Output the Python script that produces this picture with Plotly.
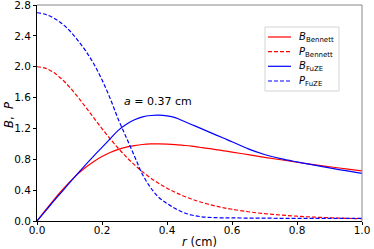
import plotly.graph_objects as go

r_grid = [0.0, 0.025, 0.05, 0.075, 0.1, 0.125, 0.15, 0.175, 0.2, 0.225, 0.25, 0.275, 0.3,
          0.325, 0.35, 0.375, 0.4, 0.425, 0.45, 0.475, 0.5, 0.525, 0.55, 0.575, 0.6,
          0.65, 0.7, 0.75, 0.8, 0.85, 0.9, 0.95, 1.0]

B_bennett = [0.000, 0.135, 0.265, 0.389, 0.504, 0.607, 0.696, 0.773, 0.837, 0.888, 0.928, 0.958, 0.978,
             0.992, 0.999, 1.000, 0.997, 0.991, 0.981, 0.970, 0.956, 0.942, 0.926, 0.910, 0.894,
             0.860, 0.826, 0.794, 0.762, 0.732, 0.703, 0.676, 0.651]

P_bennett = [2.000, 1.982, 1.929, 1.845, 1.737, 1.611, 1.475, 1.336, 1.198, 1.066, 0.943, 0.830, 0.728,
             0.637, 0.557, 0.487, 0.425, 0.372, 0.325, 0.285, 0.250, 0.220, 0.194, 0.171, 0.152,
             0.120, 0.095, 0.077, 0.062, 0.051, 0.042, 0.035, 0.029]

B_fuze = [0.000, 0.125, 0.250, 0.372, 0.495, 0.615, 0.732, 0.845, 0.955, 1.065, 1.175, 1.255, 1.312,
          1.350, 1.368, 1.372, 1.362, 1.340, 1.297, 1.252, 1.207, 1.162, 1.117, 1.072, 1.028,
          0.935, 0.862, 0.808, 0.766, 0.727, 0.689, 0.652, 0.617]

P_fuze = [2.700, 2.680, 2.635, 2.565, 2.470, 2.345, 2.205, 2.035, 1.830, 1.590, 1.320, 1.080, 0.840,
          0.600, 0.430, 0.305, 0.228, 0.163, 0.112, 0.078, 0.058, 0.048, 0.043, 0.041, 0.040,
          0.038, 0.037, 0.035, 0.035, 0.034, 0.034, 0.033, 0.033]

series_names = ["<i>B</i><sub>Bennett</sub>", "<i>P</i><sub>Bennett</sub>",
                "<i>B</i><sub>FuZE</sub>", "<i>P</i><sub>FuZE</sub>"]
series_values = [B_bennett, P_bennett, B_fuze, P_fuze]

x_ticks = [0.0, 0.2, 0.4, 0.6, 0.8, 1.0]
y_ticks = [0.0, 0.4, 0.8, 1.2, 1.6, 2.0, 2.4, 2.8]

annotation_text = "<i>a</i> = 0.37 cm"
x_title = "<i>r</i> (cm)"
y_title = "<i>B</i>,  <i>P</i>"

FONT = "DejaVu Sans"
colors = ["#ff0000", "#ff0000", "#0000ff", "#0000ff"]
dashes = ["solid", "4px,2px", "solid", "4px,2px"]

W, H = 374, 249
ML, MR, MT, MB = 37, 12, 5, 28
PW, PH = W - ML - MR, H - MT - MB


def px_to_paper(px, py):
    return (px - ML) / PW, (H - MB - py) / PH


fig = go.Figure()
for name, vals, col, dash in zip(series_names, series_values, colors, dashes):
    fig.add_trace(go.Scatter(x=r_grid, y=vals, mode="lines", name=name, showlegend=False,
                             line=dict(color=col, width=1.2, dash=dash, shape="spline")))

fig.add_annotation(x=0.372, y=1.55, text=annotation_text, showarrow=False,
                   font=dict(family=FONT, size=11, color="black"))

# axis titles
fig.add_annotation(xref="paper", yref="paper", x=0.5, y=-0.096, yanchor="middle",
                   text=x_title, showarrow=False,
                   font=dict(family=FONT, size=11.5, color="black"))
fig.add_annotation(xref="paper", yref="paper", x=-0.087, y=0.49, xanchor="center", yanchor="middle",
                   text=y_title, showarrow=False, textangle=-90,
                   font=dict(family=FONT, size=11.5, color="black"))

# top/right frame lines in grey
fig.add_shape(type="line", xref="x domain", yref="y domain", x0=0, x1=1, y0=1, y1=1,
              line=dict(color="#888888", width=1))
fig.add_shape(type="line", xref="x domain", yref="y domain", x0=1, x1=1, y0=0, y1=1,
              line=dict(color="#888888", width=1))

# legend box (matplotlib-like compact legend)
bx0, by0 = px_to_paper(265, 27)
bx1, by1 = px_to_paper(339, 91)
fig.add_shape(type="rect", xref="paper", yref="paper", x0=bx0, x1=bx1, y0=by1, y1=by0,
              line=dict(color="#d4d4d4", width=1), fillcolor="white", layer="above")
row_y = [37, 51.7, 66.3, 81]
for name, col, dash, ry in zip(series_names, colors, dashes, row_y):
    lx0, ly = px_to_paper(268, ry)
    lx1, _ = px_to_paper(291, ry)
    fig.add_shape(type="line", xref="paper", yref="paper", x0=lx0, x1=lx1, y0=ly, y1=ly,
                  line=dict(color=col, width=1.2, dash=dash), layer="above")
    tx, ty = px_to_paper(297, ry + 0.5)
    fig.add_annotation(xref="paper", yref="paper", x=tx, y=ty, xanchor="left", yanchor="middle",
                       text=name, showarrow=False, font=dict(family=FONT, size=10, color="black"))

fig.update_layout(
    width=W, height=H,
    margin=dict(l=ML, r=MR, t=MT, b=MB),
    paper_bgcolor="white", plot_bgcolor="white",
    font=dict(family=FONT, size=10.5, color="black"),
    showlegend=False,
)
fig.update_xaxes(range=[0, 1.0], tickvals=x_ticks, ticktext=[f"{v:.1f}" for v in x_ticks],
                 showgrid=False, zeroline=False, showline=True, linecolor="black", linewidth=1,
                 ticks="outside", ticklen=3, tickcolor="black", automargin=False,
                 ticklabelstandoff=-4, ticklabeloverflow="allow")
fig.update_yaxes(range=[0, 2.8005], tickvals=y_ticks, ticktext=[f"{v:.1f}" for v in y_ticks],
                 showgrid=False, zeroline=False, showline=True, linecolor="black", linewidth=1,
                 ticks="outside", ticklen=3, tickcolor="black", automargin=False,
                 ticklabeloverflow="allow")

fig.write_html("out.html", config={"displayModeBar": False},
               post_script="document.body.style.margin='0';document.body.style.padding='0';")
